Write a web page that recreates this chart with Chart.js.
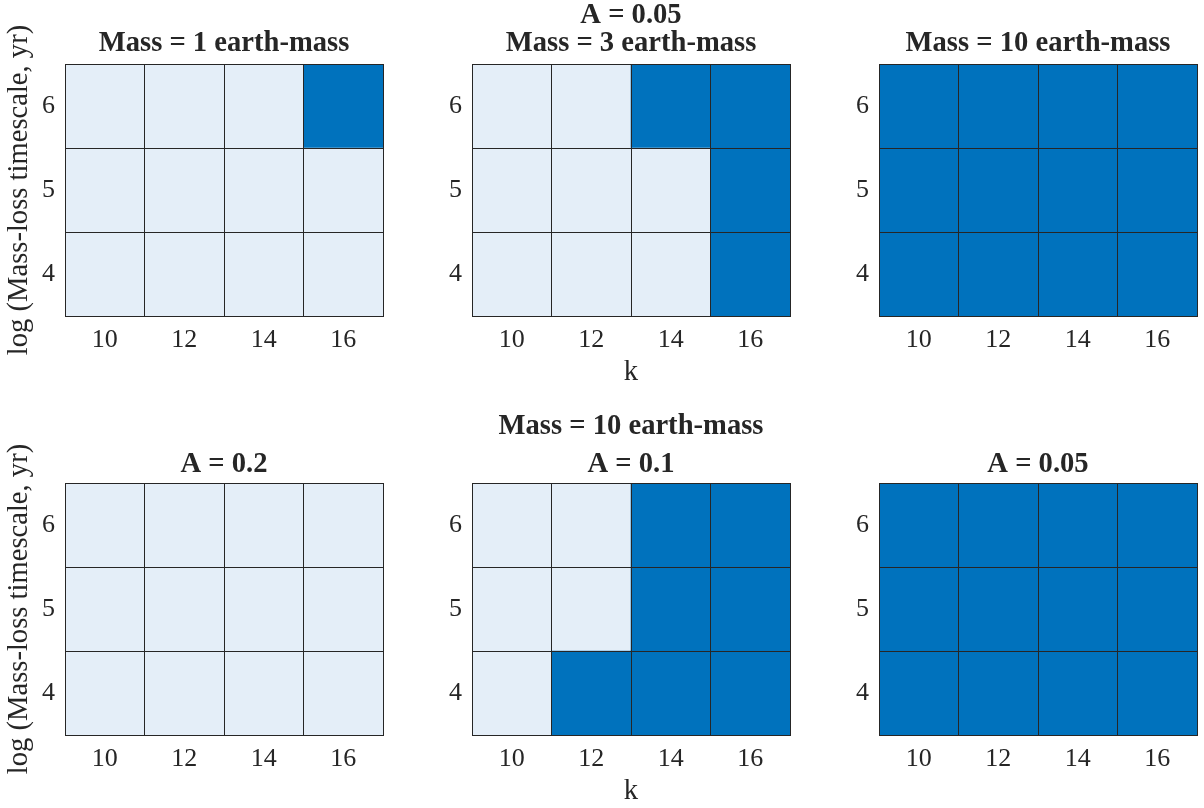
<!DOCTYPE html>
<html lang="en">
<head>
<meta charset="UTF-8">
<title>Mass-loss timescale grid</title>
<script src="https://cdn.jsdelivr.net/npm/chart.js"></script>
<style>
  body { margin: 0; background: #fff; }
  #wrap { position: relative; width: 1204px; height: 808px; overflow: hidden; }
  #wrap canvas { position: absolute; }
</style>
</head>
<body>
<div id="wrap"></div>
<script>
// categories
const kLabels = ['10', '12', '14', '16'];
const logTimescale = [4, 5, 6];

// 1 = dark cell, 0 = light cell; rows follow logTimescale (4, 5, 6)
const mass1A005  = [[0, 0, 0, 0], [0, 0, 0, 0], [0, 0, 0, 1]];
const mass3A005  = [[0, 0, 0, 1], [0, 0, 0, 1], [0, 0, 1, 1]];
const mass10A005 = [[1, 1, 1, 1], [1, 1, 1, 1], [1, 1, 1, 1]];
const mass10A02  = [[0, 0, 0, 0], [0, 0, 0, 0], [0, 0, 0, 0]];
const mass10A01  = [[0, 1, 1, 1], [0, 0, 1, 1], [0, 0, 1, 1]];

const titles = [
    ['Mass = 1 earth-mass'],
    ['A = 0.05', 'Mass = 3 earth-mass'],
    ['Mass = 10 earth-mass'],
    ['A = 0.2'],
    ['Mass = 10 earth-mass', 'A = 0.1'],
    ['A = 0.05']
];

const DARK = '#0072BD';
const LIGHT = '#E4EEF8';
const INK = '#262626';

Chart.defaults.font.family = '"Liberation Serif", "Times New Roman", serif';
Chart.defaults.color = INK;

const panels = [
    { cells: mass1A005,  row: 0, col: 0 },
    { cells: mass3A005,  row: 0, col: 1 },
    { cells: mass10A005, row: 0, col: 2 },
    { cells: mass10A02,  row: 1, col: 0 },
    { cells: mass10A01,  row: 1, col: 1 },
    { cells: mass10A005, row: 1, col: 2 }
];

// layout of the 2x3 grid (pixels)
const colLeft = [0, 407, 814];
const rowTop = [0, 400];
const rowHeight = [391, 410];
const rowPlotTop = [64, 83];      // chart area top inside canvas
const rowTitleCenter = [44, 65];  // centre of the last title line
const canvasWidth = 389;

const wrap = document.getElementById('wrap');

panels.forEach(function (p, i) {
    const canvas = document.createElement('canvas');
    canvas.width = canvasWidth;
    canvas.height = rowHeight[p.row];
    canvas.style.left = colLeft[p.col] + 'px';
    canvas.style.top = rowTop[p.row] + 'px';
    wrap.appendChild(canvas);

    const text = titles[i];
    const n = text.length;
    const lh = p.row === 0 ? 28 : (n > 1 ? 38 : 32);
    const pt = rowTitleCenter[p.row] - (n - 0.5) * lh;
    const pb = rowPlotTop[p.row] - rowTitleCenter[p.row] - lh / 2;

    // one floating-bar dataset per timescale row
    const datasets = logTimescale.map(function (t, r) {
        return {
            data: kLabels.map(function () { return [t - 0.5, t + 0.5]; }),
            backgroundColor: p.cells[r].map(function (v) { return v ? DARK : LIGHT; }),
            borderWidth: 0,
            barPercentage: 1,
            categoryPercentage: 1,
            grouped: false
        };
    });

    new Chart(canvas.getContext('2d'), {
        type: 'bar',
        data: { labels: kLabels, datasets: datasets },
        options: {
            responsive: false,
            animation: false,
            devicePixelRatio: 1,
            layout: { padding: { left: 0, right: 6, top: 0, bottom: 0 } },
            plugins: {
                legend: { display: false },
                tooltip: { enabled: false },
                title: {
                    display: true,
                    fullSize: false,
                    text: text,
                    color: INK,
                    font: { size: 28.6, weight: 'bold', lineHeight: lh + 'px' },
                    padding: { top: pt, bottom: pb }
                }
            },
            scales: {
                x: {
                    afterFit: function (scale) { scale.height = 75; },
                    grid: { offset: true, color: INK, lineWidth: 1, drawTicks: false, z: 1 },
                    border: { display: true, color: INK, z: 1 },
                    ticks: { font: { size: 26 }, padding: 9, maxRotation: 0 },
                    title: {
                        display: p.col === 1,
                        text: 'k',
                        font: { size: 28.6 },
                        padding: { top: 0, bottom: 1 }
                    }
                },
                y: {
                    min: 3.5,
                    max: 6.5,
                    afterFit: function (scale) { scale.width = 65; },
                    grid: {
                        color: function (ctx) {
                            return ctx.tick && ctx.tick.value % 1 !== 0 ? INK : 'rgba(0,0,0,0)';
                        },
                        lineWidth: 1,
                        drawTicks: false,
                        z: 1
                    },
                    border: { display: true, color: INK, z: 1 },
                    ticks: {
                        stepSize: 0.5,
                        autoSkip: false,
                        font: { size: 26 },
                        padding: 10,
                        callback: function (v) { return Number.isInteger(v) ? v : ''; }
                    },
                    title: {
                        display: p.col === 0,
                        text: 'log (Mass-loss timescale, yr)',
                        font: { size: 28.6 },
                        padding: { top: 2, bottom: 0 }
                    }
                }
            }
        }
    });
});
</script>
</body>
</html>
